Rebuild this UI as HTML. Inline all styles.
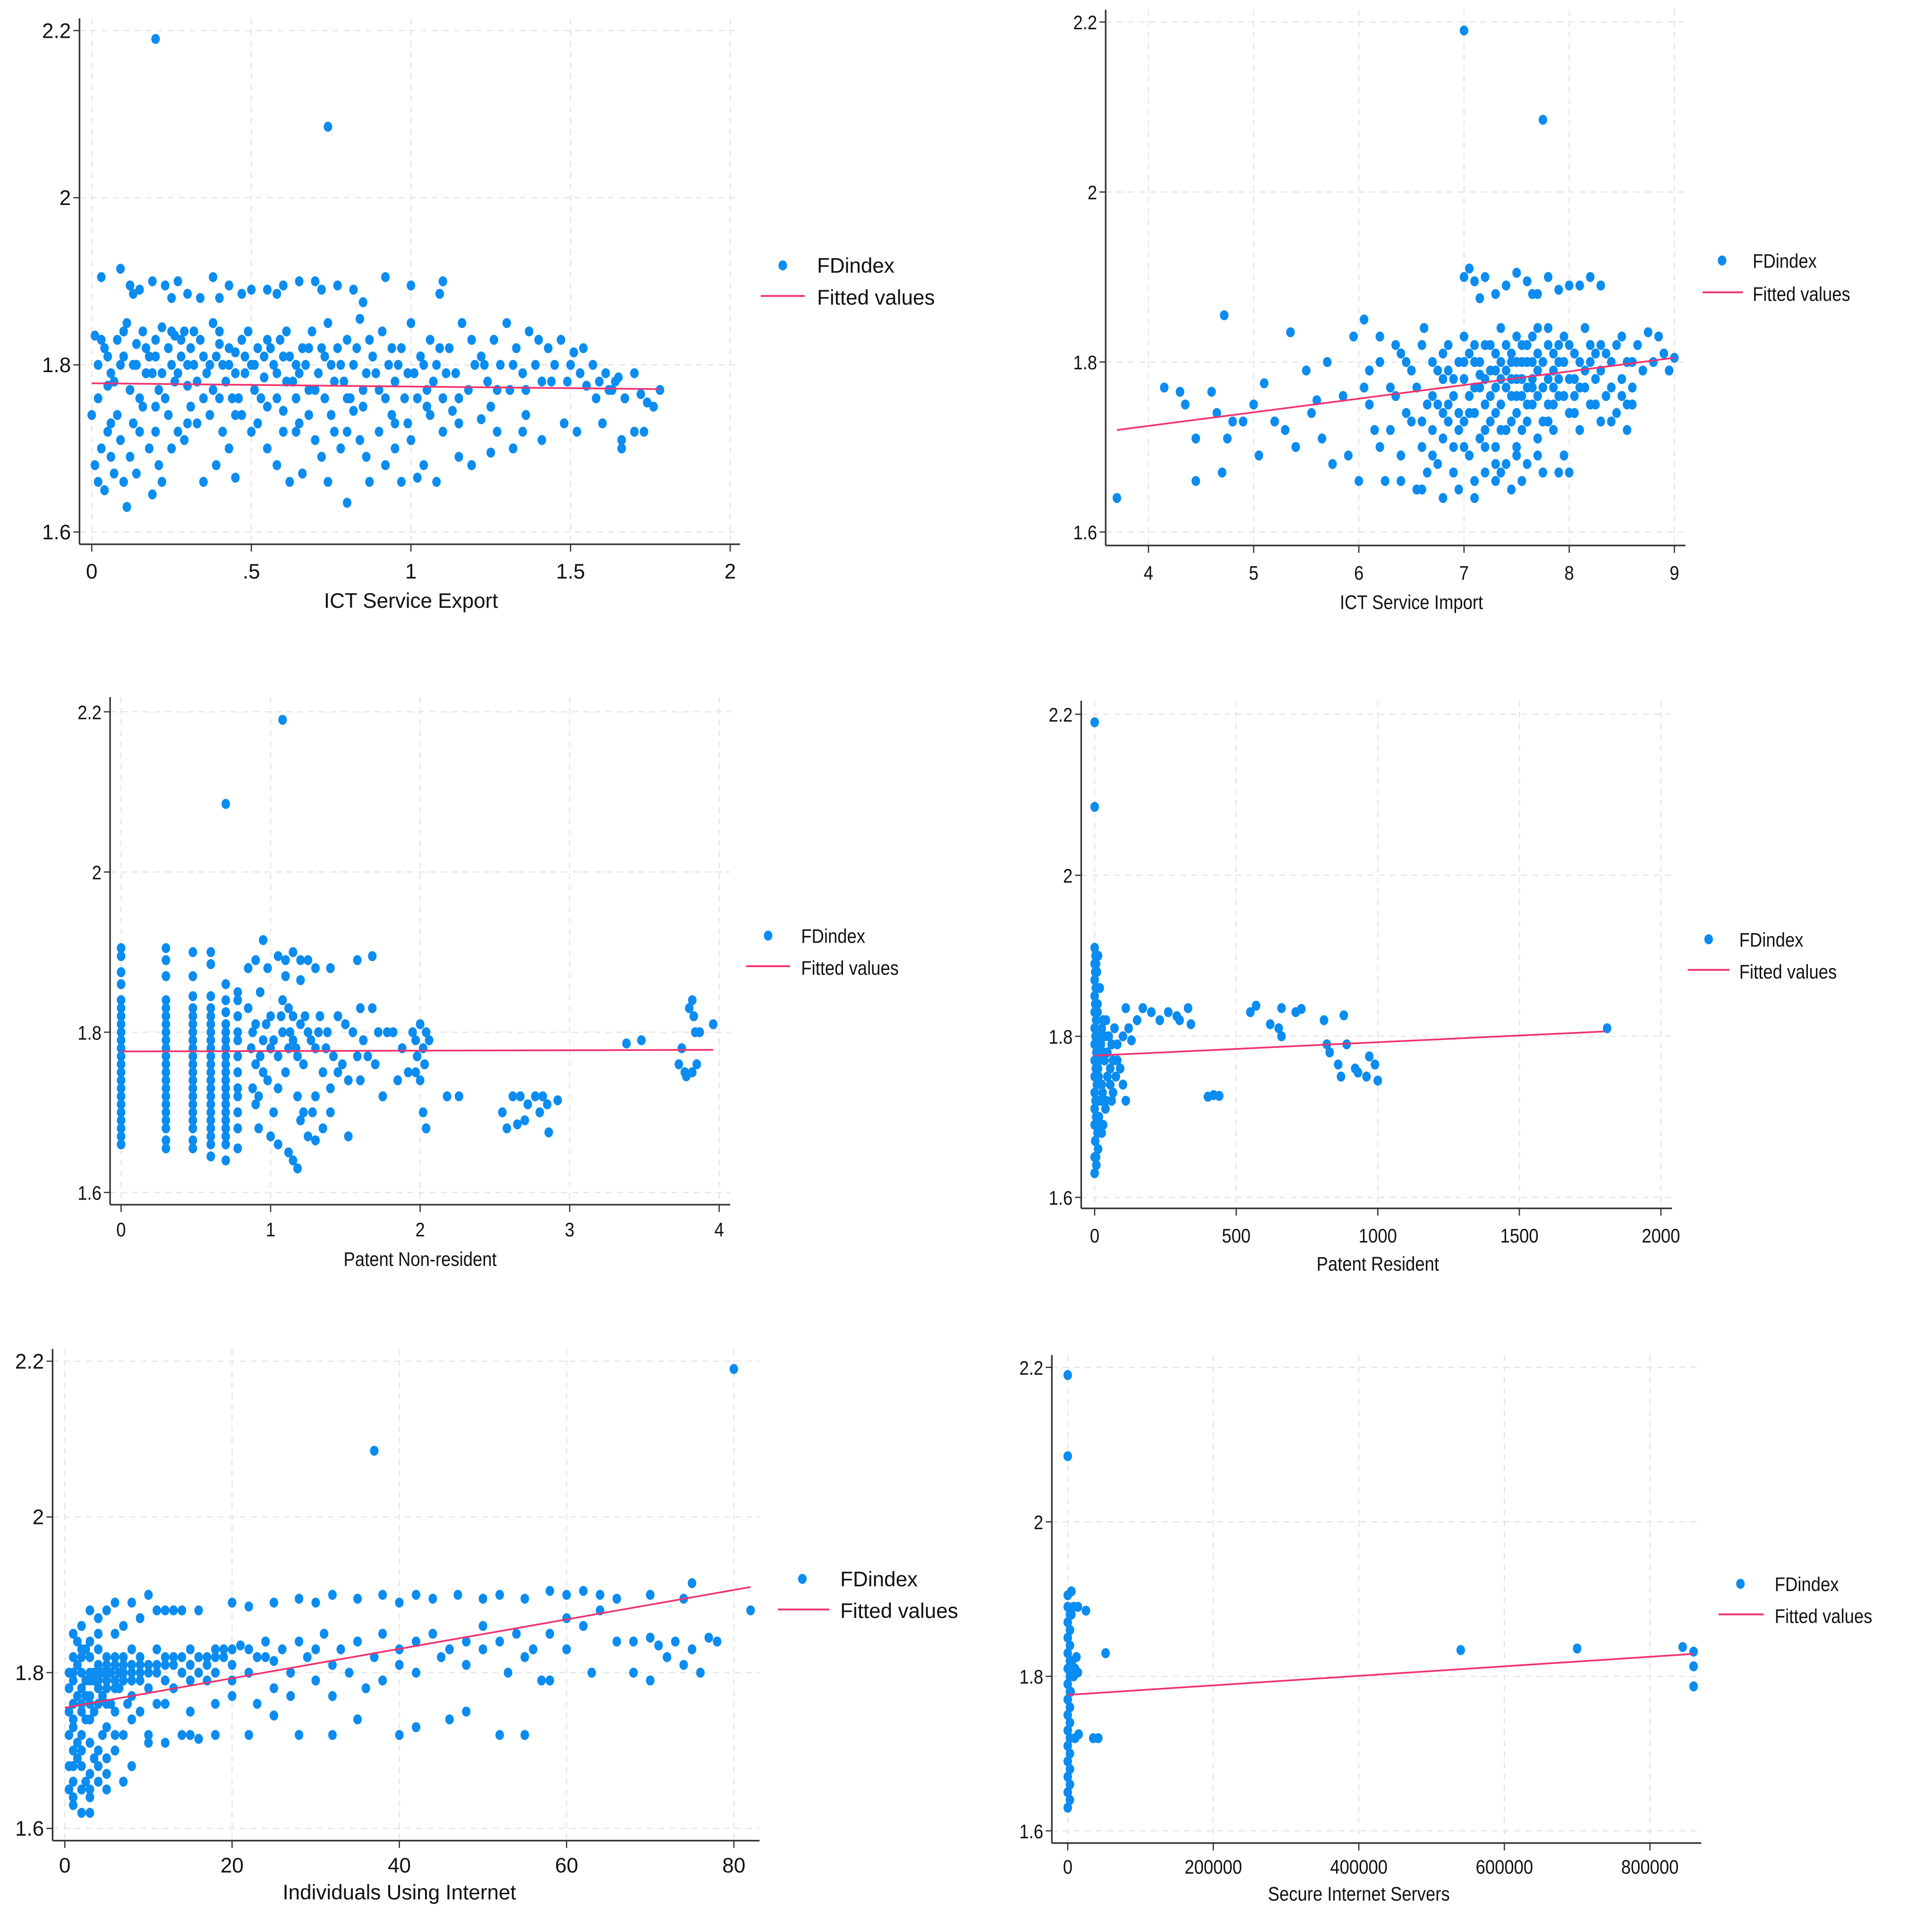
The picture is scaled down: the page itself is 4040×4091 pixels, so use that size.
<!DOCTYPE html>
<html><head><meta charset="utf-8"><title>FDindex scatter plots</title>
<style>
html,body{margin:0;padding:0;background:#fff;}
svg{display:block;}
text{font-family:"Liberation Sans",sans-serif;fill:#111;}
</style></head>
<body>
<svg id="chart" xmlns="http://www.w3.org/2000/svg" width="4040" height="4091" viewBox="0 0 1560 1579.7"></svg>
<script>
// ---------- DATA ----------
const exportPoints = [[0.2,2.19],[0.74,2.085],
[0.03,1.905],[0.09,1.915],[0.12,1.895],[0.15,1.89],[0.19,1.9],[0.23,1.895],[0.27,1.9],[0.3,1.885],[0.34,1.88],[0.38,1.905],[0.43,1.895],[0.47,1.885],[0.5,1.89],[0.55,1.89],[0.6,1.895],[0.65,1.9],[0.7,1.9],[0.72,1.89],[0.77,1.895],[0.82,1.89],[0.85,1.875],[0.92,1.905],[1.0,1.895],[1.1,1.9],[1.09,1.885],[0.13,1.885],[0.25,1.88],[0.4,1.88],[0.58,1.885],
[0.01,1.835],[0.02,1.8],[0.04,1.82],[0.05,1.775],[0.06,1.79],[0.08,1.83],[0.1,1.81],[0.11,1.85],[0.13,1.8],[0.14,1.825],[0.16,1.84],[0.17,1.79],[0.18,1.81],[0.2,1.83],[0.21,1.77],[0.22,1.845],[0.24,1.82],[0.25,1.8],[0.26,1.835],[0.27,1.79],[0.28,1.81],[0.29,1.84],[0.3,1.775],[0.31,1.82],[0.32,1.8],[0.34,1.83],[0.35,1.76],[0.36,1.79],[0.38,1.85],[0.39,1.81],[0.4,1.825],[0.42,1.78],[0.43,1.8],[0.44,1.76],[0.45,1.815],[0.47,1.83],[0.48,1.79],[0.5,1.8],[0.51,1.77],[0.52,1.82],[0.54,1.785],[0.55,1.83],[0.57,1.8],[0.58,1.76],[0.6,1.81],[0.61,1.84],[0.63,1.78],[0.64,1.8],[0.66,1.82],[0.68,1.77],[0.69,1.84],[0.71,1.79],[0.73,1.81],[0.74,1.85],[0.76,1.78],[0.78,1.8],[0.8,1.83],[0.81,1.76],[0.83,1.82],[0.84,1.855],[0.86,1.79],[0.88,1.81],[0.9,1.77],[0.91,1.84],[0.93,1.8],[0.95,1.78],[0.97,1.82],[0.98,1.76],[1.0,1.85],[1.01,1.79],[1.03,1.81],[1.05,1.77],[1.06,1.83],[1.08,1.8],[1.1,1.76],[1.12,1.82],[1.14,1.79],[1.16,1.85],[1.18,1.77],[1.2,1.8],[1.22,1.81],[1.24,1.78],[1.26,1.83],[1.28,1.8],[1.3,1.85],[1.31,1.77],[1.33,1.82],[1.35,1.79],[1.37,1.84],[1.39,1.8],[1.41,1.78],[1.43,1.82],[1.45,1.8],[1.47,1.83],[1.49,1.78],[1.51,1.815],[1.53,1.79],[1.55,1.775],[1.57,1.8],[1.59,1.78],[1.61,1.79],[1.63,1.77],[1.65,1.785],[1.67,1.76],[1.7,1.79],[1.72,1.765],[1.74,1.755],[1.76,1.75],[1.78,1.77],
[0.0,1.74],[0.01,1.68],[0.02,1.66],[0.03,1.7],[0.04,1.65],[0.05,1.72],[0.06,1.69],[0.07,1.67],[0.08,1.74],[0.09,1.71],[0.1,1.66],[0.11,1.63],[0.12,1.69],[0.13,1.73],[0.14,1.67],[0.16,1.75],[0.18,1.7],[0.19,1.645],[0.2,1.72],[0.21,1.68],[0.22,1.66],[0.24,1.74],[0.25,1.7],[0.27,1.72],[0.29,1.71],[0.31,1.75],[0.33,1.73],[0.35,1.66],[0.37,1.74],[0.39,1.68],[0.41,1.72],[0.43,1.7],[0.45,1.665],[0.47,1.74],[0.5,1.72],[0.52,1.73],[0.55,1.7],[0.58,1.68],[0.6,1.745],[0.62,1.66],[0.64,1.72],[0.66,1.67],[0.68,1.74],[0.7,1.71],[0.72,1.69],[0.74,1.66],[0.76,1.72],[0.78,1.7],[0.8,1.635],[0.82,1.745],[0.84,1.71],[0.86,1.69],[0.87,1.66],[0.9,1.72],[0.92,1.68],[0.94,1.74],[0.95,1.7],[0.97,1.66],[0.99,1.73],[1.02,1.665],[1.04,1.68],[1.06,1.74],[1.08,1.66],[1.1,1.72],[1.13,1.745],[1.15,1.69],[1.19,1.68],[1.22,1.735],[1.25,1.695],[1.27,1.72],[1.32,1.7],[1.36,1.74],[1.41,1.71],[1.48,1.73],[1.52,1.72],[1.6,1.73],[1.66,1.71],[1.7,1.72],[1.73,1.72],[1.66,1.7]];
const exportExtraPoints = [[0.02,1.76],[0.03,1.83],[0.05,1.81],[0.07,1.78],[0.09,1.8],[0.1,1.84],[0.12,1.77],[0.14,1.8],[0.15,1.76],[0.17,1.82],[0.19,1.79],[0.2,1.81],[0.22,1.79],[0.23,1.76],[0.25,1.84],[0.26,1.78],[0.28,1.83],[0.3,1.8],[0.32,1.84],[0.33,1.78],[0.35,1.81],[0.37,1.8],[0.38,1.77],[0.4,1.84],[0.41,1.8],[0.43,1.82],[0.45,1.79],[0.46,1.76],[0.48,1.81],[0.49,1.84],[0.51,1.8],[0.53,1.76],[0.54,1.81],[0.56,1.82],[0.58,1.79],[0.59,1.83],[0.61,1.78],[0.62,1.81],[0.64,1.76],[0.65,1.79],[0.67,1.8],[0.68,1.82],[0.7,1.77],[0.72,1.82],[0.73,1.76],[0.75,1.8],[0.77,1.82],[0.79,1.78],[0.8,1.76],[0.82,1.8],[0.85,1.77],[0.87,1.83],[0.89,1.79],[0.92,1.76],[0.94,1.82],[0.96,1.8],[0.99,1.79],[1.02,1.76],[1.04,1.8],[1.07,1.78],[1.09,1.82],[1.11,1.79],[1.15,1.76],[1.19,1.83],[1.23,1.8],[1.27,1.77],[1.32,1.8],[1.36,1.77],[1.4,1.83],[1.44,1.78],[1.5,1.8],[1.54,1.82],[1.58,1.76],[1.62,1.77],[1.64,1.78],[0.06,1.73],[0.15,1.72],[0.3,1.73],[0.45,1.74],[0.55,1.75],[0.65,1.73],[0.75,1.74],[0.85,1.75],[0.95,1.73],[1.05,1.75],[1.15,1.73],[1.25,1.75],[1.35,1.72],[0.2,1.75],[0.4,1.76],[0.6,1.72],[0.8,1.72],[1.0,1.71]];
const exportFitX = [0, 1.78];
const exportFitY = [1.778, 1.771];

const importPoints = [[7.0,2.19],[7.75,2.085],
[3.7,1.64],[4.15,1.77],[4.3,1.765],[4.35,1.75],[4.45,1.71],[4.45,1.66],[4.6,1.765],[4.65,1.74],[4.75,1.71],[4.7,1.67],[4.8,1.73],[4.72,1.855],[4.9,1.73],[5.0,1.75],[5.05,1.69],[5.1,1.775],[5.2,1.73],[5.3,1.72],[5.35,1.835],[5.4,1.7],[5.5,1.79],[5.55,1.74],[5.6,1.755],[5.65,1.71],[5.7,1.8],[5.75,1.68],[5.85,1.76],[5.9,1.69],[5.95,1.83],[6.0,1.66],[6.05,1.85],[6.1,1.75],[6.15,1.72],[6.2,1.8],[6.25,1.66],[6.3,1.77],[6.35,1.82],[6.4,1.69],[6.45,1.74],[6.5,1.79],[6.55,1.65],[6.6,1.7],[6.62,1.84],
[6.7,1.76],[6.7,1.72],[6.7,1.8],[6.75,1.68],[6.8,1.74],[6.8,1.78],[6.85,1.82],[6.9,1.7],[6.9,1.76],[6.95,1.8],[6.95,1.65],[7.0,1.73],[7.0,1.78],[7.0,1.83],[7.05,1.69],[7.05,1.76],[7.1,1.8],[7.1,1.74],[7.15,1.71],[7.15,1.785],[7.2,1.82],[7.2,1.75],[7.2,1.67],[7.25,1.79],[7.25,1.73],[7.3,1.81],[7.3,1.77],[7.3,1.7],[7.35,1.84],[7.35,1.75],[7.4,1.79],[7.4,1.72],[7.4,1.68],[7.45,1.81],[7.45,1.76],[7.5,1.83],[7.5,1.78],[7.5,1.74],[7.5,1.7],[7.55,1.8],[7.55,1.66],[7.6,1.82],[7.6,1.77],[7.6,1.73],[7.65,1.8],[7.65,1.75],[7.7,1.84],[7.7,1.79],[7.7,1.71],[7.75,1.77],[7.75,1.67],[7.8,1.82],[7.8,1.75],[7.85,1.79],[7.85,1.72],[7.9,1.8],[7.9,1.76],[7.95,1.83],[7.95,1.69],[8.0,1.78],[8.0,1.74],[8.05,1.81],[8.1,1.77],[8.1,1.72],[8.15,1.84],[8.2,1.8],[8.2,1.75],[8.25,1.78],[8.3,1.73],[8.3,1.82],[8.35,1.76],[8.4,1.8],[8.45,1.74],[8.5,1.83],[8.5,1.78],[8.55,1.75],[8.6,1.8],[8.65,1.82],[8.7,1.79],[8.75,1.835],[8.8,1.8],[8.85,1.83],[8.9,1.81],[9.0,1.805],[8.95,1.79],
[6.4,1.66],[6.6,1.65],[6.8,1.64],[6.65,1.67],[7.1,1.64],[7.3,1.66],[7.6,1.68],[7.9,1.67],[8.0,1.67],[6.9,1.67],[7.45,1.65],
[7.0,1.9],[7.05,1.91],[7.1,1.895],[7.2,1.9],[7.3,1.88],[7.4,1.89],[7.5,1.905],[7.6,1.895],[7.7,1.88],[7.8,1.9],[7.9,1.885],[8.0,1.89],[8.1,1.89],[8.2,1.9],[8.3,1.89],[7.15,1.875],[7.65,1.88],
[6.1,1.79],[6.2,1.83],[6.3,1.72],[6.4,1.81],[6.5,1.73],[6.55,1.77],[6.6,1.82],[6.65,1.75],[6.2,1.7],[6.05,1.77],[6.35,1.76],[6.45,1.8],
[6.85,1.79],[7.05,1.81],[7.25,1.76],[7.35,1.78],[7.45,1.8],[7.55,1.76],[7.65,1.78],[7.85,1.77],[8.05,1.76],[8.15,1.79],[8.25,1.81],[7.15,1.77],[6.95,1.74],[7.55,1.72],[7.8,1.73]];
const importExtraPoints = [[6.75,1.79],[6.8,1.81],[6.85,1.75],[6.9,1.78],[6.95,1.72],[7.0,1.8],[7.05,1.74],[7.1,1.77],[7.1,1.82],[7.15,1.8],[7.2,1.78],[7.2,1.72],[7.25,1.76],[7.25,1.82],[7.3,1.79],[7.3,1.74],[7.35,1.8],[7.35,1.72],[7.4,1.77],[7.4,1.82],[7.45,1.78],[7.45,1.73],[7.5,1.8],[7.5,1.76],[7.55,1.82],[7.55,1.78],[7.6,1.8],[7.6,1.75],[7.65,1.83],[7.65,1.77],[7.7,1.81],[7.7,1.76],[7.75,1.8],[7.75,1.73],[7.8,1.78],[7.8,1.84],[7.85,1.81],[7.85,1.75],[7.9,1.78],[7.9,1.82],[7.95,1.76],[7.95,1.8],[8.0,1.82],[8.05,1.78],[8.05,1.74],[8.1,1.8],[8.15,1.77],[8.2,1.82],[8.25,1.75],[8.3,1.79],[8.35,1.81],[8.4,1.77],[8.45,1.82],[8.5,1.76],[8.55,1.8],[8.6,1.77],[8.4,1.73],[8.55,1.72],[8.6,1.75],[7.3,1.68],[7.5,1.69],[7.7,1.69],[7.0,1.7],[6.8,1.71],[7.2,1.7],[6.7,1.69],[6.6,1.73],[6.75,1.75],[6.85,1.73],[7.1,1.66],[7.35,1.67]];
const importFitX = [3.7, 9.0];
const importFitY = [1.72, 1.805];

const nonresStripeX = [0, 0.3, 0.48, 0.6, 0.7, 0.78];
const nonresStripeY = [
[1.66,1.67,1.68,1.69,1.70,1.71,1.72,1.73,1.74,1.75,1.76,1.77,1.78,1.79,1.80,1.81,1.82,1.83,1.84,1.86,1.875,1.895,1.905],
[1.655,1.665,1.68,1.69,1.70,1.71,1.72,1.73,1.74,1.75,1.76,1.77,1.78,1.79,1.80,1.81,1.82,1.83,1.84,1.87,1.89,1.905],
[1.655,1.665,1.68,1.69,1.70,1.71,1.72,1.73,1.74,1.75,1.76,1.77,1.78,1.79,1.80,1.81,1.82,1.83,1.845,1.87,1.9],
[1.645,1.66,1.67,1.68,1.69,1.70,1.71,1.72,1.73,1.74,1.75,1.76,1.77,1.78,1.79,1.80,1.81,1.82,1.83,1.845,1.885,1.9],
[1.64,1.66,1.67,1.68,1.69,1.70,1.71,1.72,1.73,1.74,1.75,1.76,1.77,1.78,1.79,1.80,1.81,1.825,1.84,1.86],
[1.655,1.68,1.70,1.72,1.73,1.75,1.77,1.79,1.80,1.82,1.84,1.85]];
const nonresPoints = [[1.08,2.19],[0.7,2.085],
[0.85,1.88],[0.9,1.89],[0.95,1.915],[0.98,1.88],[1.05,1.895],[1.1,1.89],[1.15,1.9],[1.2,1.89],[1.25,1.89],[1.3,1.88],[1.4,1.88],[1.58,1.89],[1.68,1.895],[1.1,1.87],[1.2,1.865],
[0.85,1.83],[0.88,1.8],[0.9,1.76],[0.92,1.72],[0.95,1.79],[0.98,1.74],[1.0,1.82],[1.02,1.7],[1.05,1.77],[1.08,1.8],[1.1,1.75],[1.12,1.83],[1.15,1.79],[1.18,1.72],[1.2,1.81],[1.22,1.76],[1.25,1.8],[1.28,1.7],[1.3,1.78],[1.33,1.82],[1.35,1.75],[1.38,1.8],[1.4,1.73],[1.42,1.77],[1.45,1.82],[1.48,1.76],[1.5,1.81],[1.52,1.74],[1.55,1.8],[1.58,1.77],[1.6,1.83],[1.62,1.79],[1.65,1.77],[1.68,1.83],[1.7,1.76],[1.72,1.8],[1.75,1.72],[1.78,1.8],[1.82,1.8],[1.85,1.74],[1.88,1.78],[1.92,1.75],[1.95,1.8],[1.97,1.79],[1.98,1.77],[2.0,1.81],[2.02,1.78],[2.04,1.8],[2.0,1.74],[2.02,1.7],[2.04,1.68],[2.03,1.76],[2.06,1.79],[1.97,1.75],
[0.92,1.68],[1.0,1.67],[1.05,1.66],[1.12,1.65],[1.15,1.64],[1.18,1.63],[1.2,1.69],[1.25,1.67],[1.3,1.665],[1.35,1.68],[1.4,1.7],[1.45,1.75],[1.52,1.67],[1.6,1.74],[1.3,1.72],[1.22,1.7],
[0.9,1.81],[0.95,1.75],[1.0,1.78],[1.05,1.73],[1.08,1.84],[1.12,1.78],[1.15,1.82],[1.18,1.77],[0.88,1.73],[0.93,1.85],
[0.87,1.78],[0.9,1.71],[0.93,1.77],[0.97,1.81],[1.02,1.79],[1.07,1.82],[1.13,1.8],[1.17,1.78],[1.23,1.82],[1.27,1.79],[1.32,1.8],[1.37,1.78],
[2.18,1.72],[2.26,1.72],
[2.55,1.7],[2.58,1.68],[2.62,1.72],[2.67,1.72],[2.7,1.69],[2.72,1.71],[2.77,1.72],[2.8,1.7],[2.82,1.72],[2.85,1.71],[2.86,1.675],[2.65,1.685],[2.92,1.715],
[3.38,1.786],[3.48,1.79],[3.73,1.76],[3.75,1.78],[3.77,1.75],[3.8,1.83],[3.82,1.84],[3.83,1.82],[3.84,1.8],[3.85,1.76],[3.87,1.8],[3.78,1.745],[3.96,1.81],[3.82,1.75]];
const nonresFitX = [0, 3.96];
const nonresFitY = [1.776, 1.778];

const residentPoints = [[0,2.19],[0,2.085],
[0,1.63],[0,1.65],[2,1.67],[0,1.69],[5,1.7],[0,1.71],[3,1.72],[0,1.73],[8,1.74],[0,1.75],[4,1.76],[0,1.77],[6,1.78],[0,1.79],[3,1.8],[0,1.81],[5,1.82],[0,1.83],[2,1.84],[0,1.85],[4,1.86],[0,1.87],[2,1.88],[0,1.89],[3,1.9],[0,1.91],[10,1.68],[15,1.7],[20,1.72],[25,1.74],[12,1.76],[30,1.78],[18,1.8],[40,1.82],[22,1.79],[35,1.77],[14,1.75],[28,1.73],[45,1.75],[50,1.8],[10,1.84],[18,1.86],[8,1.88],[12,1.66],[6,1.64],[60,1.79],[55,1.76],[70,1.81],[80,1.77],[65,1.73],[75,1.75],[90,1.76],[40,1.72],
[5,1.65],[8,1.69],[10,1.72],[6,1.75],[15,1.77],[20,1.79],[25,1.81],[10,1.83],[8,1.86],[5,1.89],[12,1.9],[30,1.82],[35,1.8],[45,1.78],[55,1.74],[60,1.72],[30,1.69],[25,1.68],[38,1.71],[65,1.77],[100,1.74],[110,1.72],[80,1.79],
[100,1.8],[120,1.81],[130,1.795],[150,1.82],[170,1.835],[200,1.83],[230,1.82],[260,1.83],[290,1.825],[300,1.82],[330,1.835],[110,1.835],[340,1.815],
[400,1.725],[420,1.727],[440,1.726],
[550,1.83],[570,1.838],[620,1.815],[650,1.81],[660,1.835],[710,1.83],[730,1.834],[810,1.82],[880,1.826],[820,1.79],[830,1.78],[860,1.765],[870,1.75],[890,1.79],[920,1.76],[930,1.755],[960,1.75],[970,1.775],[990,1.765],[1000,1.745],[660,1.8],
[1810,1.81]];
const residentFitX = [0, 1800];
const residentFitY = [1.776, 1.806];

const internetPoints = [[80,2.19],[37,2.085],
[1,1.63],[1,1.66],[1,1.7],[1,1.73],[1,1.76],[1,1.79],[1,1.82],[1,1.85],[2,1.65],[2,1.68],[2,1.72],[2,1.75],[2,1.78],[2,1.8],[2,1.83],[2,1.86],[3,1.64],[3,1.67],[3,1.71],[3,1.74],[3,1.77],[3,1.8],[3,1.84],[3,1.88],[4,1.66],[4,1.7],[4,1.76],[4,1.79],[4,1.81],[4,1.85],[5,1.65],[5,1.73],[5,1.78],[5,1.8],[5,1.82],[6,1.7],[6,1.75],[6,1.78],[6,1.81],[6,1.89],[7,1.66],[7,1.72],[7,1.79],[7,1.82],[8,1.77],[8,1.8],[8,1.83],[8,1.89],[9,1.75],[9,1.79],[9,1.82],[10,1.72],[10,1.78],[10,1.81],[10,1.9],[11,1.76],[11,1.8],[11,1.83],[12,1.79],[12,1.81],[12,1.71],[13,1.78],[13,1.82],[14,1.8],[14,1.72],[14,1.88],[15,1.79],[15,1.83],[16,1.8],[16,1.715],[17,1.81],[17,1.79],[18,1.82],[18,1.8],[19,1.83],[20,1.81],[20,1.79],[21,1.835],[22,1.8],[23,1.82],[24,1.84],[25,1.815],[26,1.83],[27,1.8],[28,1.84],[29,1.82],[30,1.83],[31,1.85],[32,1.81],[33,1.83],[35,1.84],[37,1.82],[38,1.85],[40,1.83],[42,1.84],[44,1.85],[46,1.83],[48,1.84],[50,1.86],[52,1.84],[54,1.85],[56,1.83],[58,1.85],[60,1.87],[62,1.86],[64,1.88],[66,1.84],[68,1.84],[70,1.845],[71,1.835],[73,1.84],[75,1.83],[77,1.845],
[1.5,1.69],[2.5,1.74],[3.5,1.79],[4.5,1.72],[5.5,1.76],[6.5,1.8],[7.5,1.76],[1.5,1.81],[2.5,1.77],[3.5,1.69],[0.5,1.75],[0.5,1.68],[0.5,1.8],
[20,1.89],[22,1.885],[25,1.89],[28,1.895],[30,1.89],[32,1.9],[35,1.895],[38,1.9],[40,1.89],[42,1.9],[44,1.895],[47,1.9],[50,1.895],[52,1.9],[55,1.895],[58,1.905],[60,1.9],[62,1.905],[64,1.9],[66,1.895],[70,1.9],[75,1.915],[74,1.895],[16,1.88],[12,1.88],
[5,1.76],[8,1.74],[12,1.76],[15,1.75],[18,1.76],[20,1.77],[23,1.76],[25,1.78],[27,1.77],[30,1.79],[32,1.77],[34,1.8],[36,1.78],[38,1.79],[40,1.81],[42,1.8],[45,1.82],[48,1.81],[50,1.83],[53,1.8],[55,1.82],[58,1.79],[60,1.83],[63,1.8],[68,1.8],[72,1.82],[74,1.81],[76,1.8],[70,1.79],
[10,1.71],[15,1.72],[18,1.72],[22,1.72],[25,1.745],[28,1.72],[32,1.72],[35,1.74],[40,1.72],[42,1.73],[46,1.74],[48,1.75],[52,1.72],[55,1.72],[57,1.79],[8,1.68],[5,1.69],[3,1.62],
[78,1.84],[82,1.88]];
const internetExtraPoints = [[0.5,1.72],[0.5,1.78],[0.5,1.65],[1,1.68],[1,1.74],[1,1.8],[1.5,1.71],[1.5,1.77],[1.5,1.84],[2,1.7],[2,1.76],[2,1.82],[2.5,1.79],[2.5,1.83],[2.5,1.66],[3,1.76],[3,1.79],[3,1.82],[3.5,1.8],[3.5,1.75],[4,1.78],[4,1.8],[4,1.83],[4.5,1.77],[4.5,1.8],[5,1.79],[5,1.81],[5.5,1.8],[6,1.79],[6,1.82],[6.5,1.78],[7,1.8],[7,1.81],[8,1.79],[8,1.81],[9,1.8],[9,1.81],[10,1.8],[11,1.81],[12,1.82],[13,1.81],[14,1.82],[15,1.81],[16,1.82],[17,1.82],[18,1.83],[19,1.82],[20,1.83],[22,1.83],[24,1.82],[3,1.65],[4,1.68],[5,1.67],[6,1.72],[2,1.62],[1,1.64],[6,1.85],[7,1.86],[9,1.87],[11,1.88],[13,1.88],[4,1.87],[5,1.88]];
const internetFitX = [0, 82];
const internetFitY = [1.755, 1.91];

const serversPoints = [[0,2.19],[0,2.085],
[0,1.63],[0,1.65],[0,1.67],[0,1.69],[0,1.71],[0,1.73],[0,1.75],[0,1.77],[0,1.79],[0,1.81],[0,1.83],[0,1.85],[0,1.87],[0,1.89],[0,1.905],[3000,1.64],[3000,1.66],[3000,1.68],[3000,1.7],[3000,1.72],[3000,1.74],[3000,1.76],[3000,1.78],[3000,1.8],[3000,1.82],[3000,1.84],[3000,1.86],[3000,1.88],[5000,1.91],[6000,1.82],[8000,1.8],[10000,1.81],[12000,1.825],[14000,1.805],[8000,1.89],[14000,1.89],[25000,1.885],[10000,1.72],[15000,1.725],[35000,1.72],[42000,1.72],[52000,1.83],[5000,1.88],[4000,1.78],
[540000,1.834],[700000,1.836],[845000,1.838],[860000,1.832],[860000,1.813],[860000,1.787]];
const serversFitX = [0, 860000];
const serversFitY = [1.776, 1.829];

const yTickValues = [1.6, 1.8, 2.0, 2.2];
const yTickLabels = ["1.6", "1.8", "2", "2.2"];
const exportTicks = [0, 0.5, 1, 1.5, 2];
const exportTickLabels = ["0", ".5", "1", "1.5", "2"];
const importTicks = [4, 5, 6, 7, 8, 9];
const importTickLabels = ["4", "5", "6", "7", "8", "9"];
const nonresTicks = [0, 1, 2, 3, 4];
const nonresTickLabels = ["0", "1", "2", "3", "4"];
const residentTicks = [0, 500, 1000, 1500, 2000];
const residentTickLabels = ["0", "500", "1000", "1500", "2000"];
const internetTicks = [0, 20, 40, 60, 80];
const internetTickLabels = ["0", "20", "40", "60", "80"];
const serversTicks = [0, 200000, 400000, 600000, 800000];
const serversTickLabels = ["0", "200000", "400000", "600000", "800000"];

// ---------- LAYOUT ----------
const NS = "http://www.w3.org/2000/svg";
const svg = document.getElementById("chart");
const BLUE = "#0a8cf0", RED = "#f0326e";

function mk(tag, attrs, parent) {
  const e = document.createElementNS(NS, tag);
  for (const k in attrs) e.setAttribute(k, attrs[k]);
  (parent || svg).appendChild(e);
  return e;
}

const panels = [
  {key:"export", title:"ICT Service Export", pts:exportPoints.concat(exportExtraPoints), fx:exportFitX, fy:exportFitY, ticks:exportTicks, labels:exportTickLabels,
   xd:[0,2], xp:[75,597], yp:[435,25], ax:65, top:15, bot:445, right:605, titleY:497, tickY:473, leg:{dx:640,dy:217,tx:668,ly1:622,ly2:658,ly:242}, fs:17},
  {key:"import", title:"ICT Service Import", pts:importPoints.concat(importExtraPoints), fx:importFitX, fy:importFitY, ticks:importTicks, labels:importTickLabels,
   xd:[4,9], xp:[939,1369], yp:[435,18], ax:904, top:8, bot:446, right:1378, titleY:498, tickY:474, leg:{dx:1408,dy:213,tx:1433,ly1:1392,ly2:1425,ly:239}, fs:16, cond:true},
  {key:"nonres", title:"Patent Non-resident", pts:nonresPoints, fx:nonresFitX, fy:nonresFitY, ticks:nonresTicks, labels:nonresTickLabels,
   xd:[0,4], xp:[99,588], yp:[975,582], ax:90, top:570, bot:985, right:597, titleY:1035, tickY:1011, leg:{dx:628,dy:765,tx:655,ly1:610,ly2:646,ly:790}, fs:16, cond:true},
  {key:"resident", title:"Patent Resident", pts:residentPoints, fx:residentFitX, fy:residentFitY, ticks:residentTicks, labels:residentTickLabels,
   xd:[0,2000], xp:[895,1358], yp:[979,584], ax:884, top:573, bot:988, right:1367, titleY:1039, tickY:1016, leg:{dx:1397,dy:768,tx:1422,ly1:1380,ly2:1414,ly:793}, fs:16, cond:true},
  {key:"internet", title:"Individuals Using Internet", pts:internetPoints.concat(internetExtraPoints), fx:internetFitX, fy:internetFitY, ticks:internetTicks, labels:internetTickLabels,
   xd:[0,80], xp:[53,600], yp:[1495,1113], ax:43, top:1103, bot:1505, right:621, titleY:1553, tickY:1531, leg:{dx:656,dy:1291,tx:687,ly1:636,ly2:678,ly:1316}, fs:17},
  {key:"servers", title:"Secure Internet Servers", pts:serversPoints, fx:serversFitX, fy:serversFitY, ticks:serversTicks, labels:serversTickLabels,
   xd:[0,800000], xp:[873,1349], yp:[1497,1118], ax:860, top:1108, bot:1507, right:1391, titleY:1554, tickY:1532, leg:{dx:1423,dy:1295,tx:1451,ly1:1405,ly2:1442,ly:1320}, fs:16, cond:true}
];

const RX = 3.5, RY = 4.1;

panels.forEach(p => {
  const sx = v => p.xp[0] + (v - p.xd[0]) / (p.xd[1] - p.xd[0]) * (p.xp[1] - p.xp[0]);
  const sy = v => p.yp[0] + (v - 1.6) / 0.6 * (p.yp[1] - p.yp[0]);
  const g = mk("g", {});
  
  
  const sc = p.cond ? "scale(0.88,1)" : "";

  const grid = mk("g", {stroke:"#e6e6e6", "stroke-width":1, "stroke-dasharray":"5,4"}, g);
  
  
  yTickValues.forEach(v => mk("line", {x1:p.ax, x2:p.right, y1:sy(v), y2:sy(v)}, grid));
  p.ticks.forEach(v => mk("line", {x1:sx(v), x2:sx(v), y1:p.top, y2:p.bot}, grid));

  const yAxis = mk("line", {x1:p.ax, x2:p.ax, y1:p.top, y2:p.bot, stroke:"#333", "stroke-width":1.3}, g);
  
  
  const xAxis = mk("line", {x1:p.ax, x2:p.right, y1:p.bot, y2:p.bot, stroke:"#333", "stroke-width":1.3}, g);
  
  

  yTickValues.forEach((v, i) => {
    mk("line", {x1:p.ax-5, x2:p.ax, y1:sy(v), y2:sy(v), stroke:"#333", "stroke-width":1}, g);
    const t = mk("text", {x:0, y:0, "text-anchor":"end", "font-size":p.fs, transform:`translate(${p.ax-7},${sy(v)+6}) ${sc}`}, g);
    t.textContent = yTickLabels[i];
    
    
  });
  p.ticks.forEach((v, i) => {
    mk("line", {x1:sx(v), x2:sx(v), y1:p.bot, y2:p.bot+6, stroke:"#333", "stroke-width":1}, g);
    const t = mk("text", {x:0, y:0, "text-anchor":"middle", "font-size":p.fs, transform:`translate(${sx(v)},${p.tickY}) ${sc}`}, g);
    t.textContent = p.labels[i];
    
    
  });
  const ttl = mk("text", {x:0, y:0, "text-anchor":"middle", "font-size":p.fs, transform:`translate(${(p.xp[0]+p.xp[1])/2},${p.titleY}) ${sc}`}, g);
  ttl.textContent = p.title;
  
  

  const pg = mk("g", {fill:BLUE}, g);
  
  
  p.pts.forEach(d => {
    const c = mk("ellipse", {cx:sx(d[0]), cy:sy(d[1]), rx:RX, ry:RY}, pg);
    
    
  });
  if (p.key === "nonres") {
    nonresStripeX.forEach((x, i) => {
      nonresStripeY[i].forEach(y => {
        const c = mk("ellipse", {cx:sx(x), cy:sy(y), rx:RX, ry:RY}, pg);
        
        
      });
    });
  }

  const fl = mk("line", {x1:sx(p.fx[0]), y1:sy(p.fy[0]), x2:sx(p.fx[1]), y2:sy(p.fy[1]), stroke:RED, "stroke-width":1.4}, g);
  
  

  const L = p.leg;
  const lg = mk("g", {}, g);
  
  
  mk("ellipse", {cx:L.dx, cy:L.dy, rx:RX, ry:RY, fill:BLUE}, lg);
  const t1 = mk("text", {x:0, y:0, "font-size":p.fs, transform:`translate(${L.tx},${L.dy+6}) ${sc}`}, lg);
  t1.textContent = "FDindex";
  
  
  mk("line", {x1:L.ly1, x2:L.ly2, y1:L.ly, y2:L.ly, stroke:RED, "stroke-width":1.5}, lg);
  const t2 = mk("text", {x:0, y:0, "font-size":p.fs, transform:`translate(${L.tx},${L.ly+7}) ${sc}`}, lg);
  t2.textContent = "Fitted values";
  
  
});
</script>
</body></html>
